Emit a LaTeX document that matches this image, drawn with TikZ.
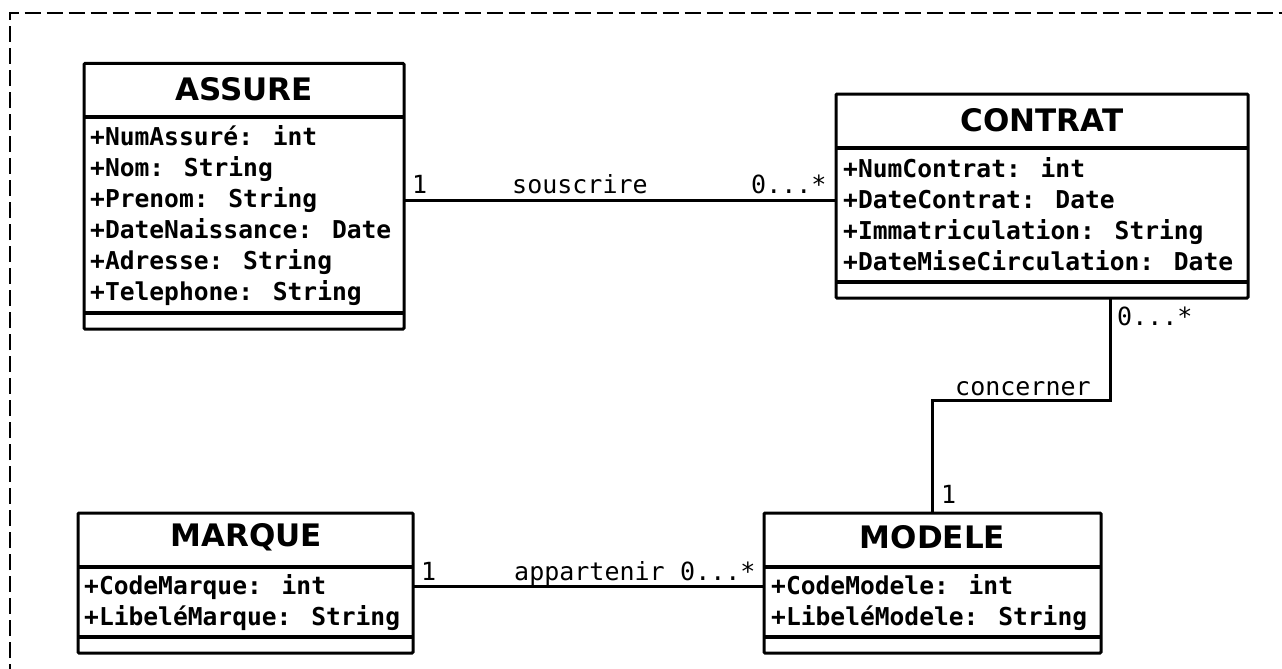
\documentclass[tikz,border=0pt]{standalone}
\usepackage{fontspec}
\newfontfamily\hfont{DejaVu Sans}
\newfontfamily\mfont{DejaVu Sans Mono}
\begin{document}
\begin{tikzpicture}[x=1pt,y=-1pt,
  box/.style={draw, line width=3pt, rounded corners=1pt, inner sep=0pt, outer sep=0pt, anchor=north west},
  sep/.style={line width=3.5pt},
  title/.style={font=\hfont\bfseries\fontsize{31}{36}\selectfont, inner sep=0pt},
  attr/.style={font=\mfont\bfseries\fontsize{24.6}{31}\selectfont, inner sep=0pt, anchor=base west},
  lbl/.style={font=\mfont\fontsize{25}{31}\selectfont, inner sep=0pt, anchor=base west},
  conn/.style={line width=3pt},
  frame/.style={line width=2pt, dash pattern=on 16pt off 6pt}]
\useasboundingbox (0,0) rectangle (1282,669);
% dashed frame (only top and left visible)
\draw[frame] (9.5,680) -- (9.5,13) -- (1295,13);

% ASSURE
\node[box, minimum width=320pt, minimum height=265.5pt] (assure) at (84,63.5) {};
\draw[sep] (assure.west |- 0,117) -- (assure.east |- 0,117);
\draw[sep] (assure.west |- 0,313) -- (assure.east |- 0,313);
\node[title] (tassure) at (244,89) {ASSURE};
\node[attr] (a1) at (90,145) {+NumAssuré: int};
\node[attr] (a2) at (90,176) {+Nom: String};
\node[attr] (a3) at (90,207) {+Prenom: String};
\node[attr] (a4) at (90,238) {+DateNaissance: Date};
\node[attr] (a5) at (90,269) {+Adresse: String};
\node[attr] (a6) at (90,300) {+Telephone: String};

% CONTRAT
\node[box, minimum width=412pt, minimum height=204pt] (contrat) at (836,94) {};
\draw[sep] (contrat.west |- 0,148) -- (contrat.east |- 0,148);
\draw[sep] (contrat.west |- 0,282) -- (contrat.east |- 0,282);
\node[title] (tcontrat) at (1042,120) {CONTRAT};
\node[attr] (c1) at (843,177) {+NumContrat: int};
\node[attr] (c2) at (843,208) {+DateContrat: Date};
\node[attr] (c3) at (843,239) {+Immatriculation: String};
\node[attr] (c4) at (843,270) {+DateMiseCirculation: Date};

% MARQUE
\node[box, minimum width=335pt, minimum height=140pt] (marque) at (78,513) {};
\draw[sep] (marque.west |- 0,567) -- (marque.east |- 0,567);
\draw[sep] (marque.west |- 0,637) -- (marque.east |- 0,637);
\node[title] (tmarque) at (246,537) {MARQUE};
\node[attr] (m1) at (84,594) {+CodeMarque: int};
\node[attr] (m2) at (84,625) {+LibeléMarque: String};

% MODELE
\node[box, minimum width=337pt, minimum height=140pt] (modele) at (764,513) {};
\draw[sep] (modele.west |- 0,567) -- (modele.east |- 0,567);
\draw[sep] (modele.west |- 0,637) -- (modele.east |- 0,637);
\node[title] (tmodele) at (932.5,537) {MODELE};
\node[attr] (d1) at (771,594) {+CodeModele: int};
\node[attr] (d2) at (771,625) {+LibeléModele: String};

% souscrire
\draw[conn] (assure.east |- 0,200) -- (contrat.west |- 0,200);
\node[lbl] (s1) at (412,193) {1};
\node[lbl] (s2) at (512,193) {souscrire};
\node[lbl] (s3) at (751,193) {0...*};

% concerner
\coordinate (bend) at (1110,400);
\draw[conn] (contrat.south -| bend) -- (bend) -| (modele.north);
\node[lbl] (k1) at (1117,325) {0...*};
\node[lbl] (k2) at (955,395) {concerner};
\node[lbl] (k3) at (941,503) {1};

% appartenir
\draw[conn] (marque.east |- 0,586) -- (modele.west |- 0,586);
\node[lbl] (p1) at (421,580) {1};
\node[lbl] (p2) at (514,580) {appartenir};
\node[lbl] (p3) at (680,580) {0...*};
\end{tikzpicture}
\end{document}
